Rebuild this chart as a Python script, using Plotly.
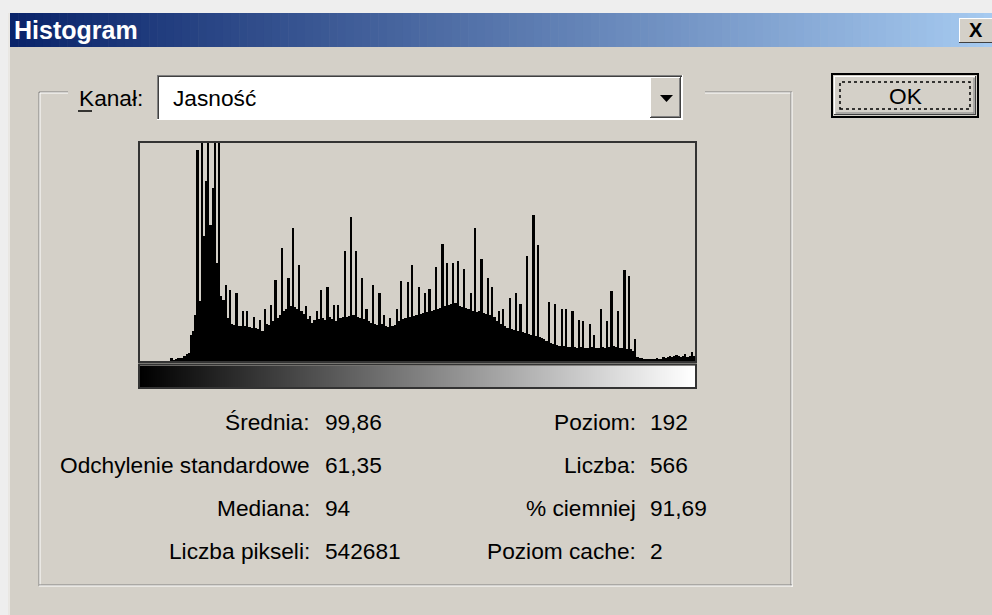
import plotly.graph_objects as go

# ---------------- data ----------------
levels = list(range(256))
counts = [
    0, 0, 0, 0, 0, 0, 0, 0, 0, 0, 0, 0, 0, 0, 3, 1, 2, 3, 3, 3,
    5, 7, 8, 26, 30, 46, 211, 60, 300, 125, 180, 300, 136, 173, 300, 98, 300, 65, 61, 76,
    43, 71, 37, 36, 68, 35, 35, 50, 35, 50, 34, 33, 44, 33, 32, 41, 30, 52, 37, 36,
    56, 40, 81, 43, 46, 113, 50, 52, 83, 55, 133, 54, 52, 96, 50, 47, 55, 42, 45, 38,
    41, 50, 42, 71, 43, 41, 74, 44, 42, 56, 40, 56, 43, 44, 110, 44, 45, 144, 46, 110,
    44, 43, 83, 42, 52, 40, 38, 76, 37, 36, 68, 37, 46, 35, 34, 43, 35, 36, 52, 40,
    80, 42, 43, 79, 44, 96, 45, 46, 74, 47, 48, 68, 49, 72, 50, 51, 94, 52, 53, 117,
    55, 98, 56, 57, 98, 58, 100, 55, 54, 92, 53, 52, 68, 50, 133, 49, 50, 102, 48, 47,
    83, 46, 74, 44, 40, 50, 37, 52, 35, 33, 63, 32, 31, 68, 30, 57, 29, 28, 105, 27,
    26, 146, 25, 116, 24, 23, 22, 20, 59, 18, 17, 57, 16, 15, 52, 15, 52, 14, 14, 50,
    14, 13, 41, 14, 40, 13, 13, 37, 14, 26, 13, 13, 52, 14, 13, 40, 14, 70, 15, 14,
    50, 13, 13, 91, 12, 85, 12, 10, 22, 4, 3, 3, 2, 2, 2, 2, 2, 2, 3, 2,
    2, 4, 3, 4, 5, 4, 5, 6, 5, 4, 5, 7, 4, 5, 9, 5,
]
y_max = 218

dialog_title = "Histogram"
channel_label = "Kanał:"
channel_value = "Jasność"
button_label = "OK"
left_labels = ["Średnia:", "Odchylenie standardowe", "Mediana:", "Liczba pikseli:"]
left_values = ["99,86", "61,35", "94", "542681"]
right_labels = ["Poziom:", "Liczba:", "% ciemniej", "Poziom cache:"]
right_values = ["192", "566", "91,69", "2"]

# ---------------- helpers ----------------
W, H = 992, 615
FACE = "#d4d0c8"
FONT = "Liberation Sans, Arial, sans-serif"


def px(x):
    return x / W


def py(y):
    return 1 - y / H


shapes = []


def rect(x0, y0, x1, y1, fill=None, line=None, lw=1, dash=None, layer="above"):
    d = dict(type="rect", xref="paper", yref="paper",
             x0=px(x0), x1=px(x1), y0=py(y1), y1=py(y0), layer=layer)
    if fill:
        d["fillcolor"] = fill
    if line:
        d["line"] = dict(color=line, width=lw, dash=dash) if dash else dict(color=line, width=lw)
    else:
        d["line"] = dict(width=0)
    shapes.append(d)


def hline(x0, x1, y, color, lw=1):
    shapes.append(dict(type="line", xref="paper", yref="paper",
                       x0=px(x0), x1=px(x1), y0=py(y), y1=py(y),
                       line=dict(color=color, width=lw)))


def vline(x, y0, y1, color, lw=1):
    shapes.append(dict(type="line", xref="paper", yref="paper",
                       x0=px(x), x1=px(x), y0=py(y0), y1=py(y1),
                       line=dict(color=color, width=lw)))


# outer desktop strip (dotted pattern approximated)
rect(0, 0, W, 13, fill="#eeeeee", layer="below")
rect(0, 0, 8, H, fill="#eeeeee", layer="below")
vline(9, 13, H, "#ffffff", 1)

# title bar gradient
n = 120
c0 = (10, 36, 106)
c1 = (166, 202, 240)
x_start, x_end = 10, W
for i in range(n):
    t = i / (n - 1)
    col = "rgb(%d,%d,%d)" % tuple(int(c0[k] + (c1[k] - c0[k]) * t) for k in range(3))
    xa = x_start + (x_end - x_start) * i / n
    xb = x_start + (x_end - x_start) * (i + 1) / n + 0.6
    rect(xa, 13, xb, 47, fill=col, layer="below")

# close button
rect(959, 18, W, 43, fill=FACE, layer="above")
hline(959, W, 18.5, "#ffffff")
vline(959.5, 18, 43, "#ffffff")
hline(959, W, 42.5, "#404040")

# group box (etched)
GX0, GY0, GX1, GY1 = 39, 92, 792, 586
hline(GX0, 68, GY0, "#808080")
hline(GX0 + 1, 68, GY0 + 1, "#ffffff")
hline(705, GX1, GY0, "#808080")
hline(705, GX1 - 1, GY0 + 1, "#ffffff")
vline(GX0, GY0, GY1, "#808080")
vline(GX0 + 1, GY0 + 1, GY1 - 1, "#ffffff")
vline(GX1 - 1, GY0, GY1, "#808080")
vline(GX1, GY0, GY1 + 1, "#ffffff")
hline(GX0, GX1, GY1 - 1, "#808080")
hline(GX0, GX1 + 1, GY1, "#ffffff")

# combobox
rect(157, 75, 683, 120, fill="#ffffff")
hline(157, 683, 75.5, "#808080")
vline(157.5, 75, 120, "#808080")
hline(158, 682, 76.5, "#404040")
vline(158.5, 76, 119, "#404040")
hline(157, 683, 119.5, "#ffffff")
vline(682.5, 75, 120, "#ffffff")
# dropdown button
rect(650, 77, 681, 118, fill=FACE)
hline(650, 681, 77.5, "#ffffff")
vline(650.5, 77, 118, "#ffffff")
hline(650, 681, 117.5, "#404040")
vline(680.5, 77, 118, "#404040")
hline(651, 680, 116.5, "#808080")
vline(679.5, 78, 117, "#808080")
shapes.append(dict(type="path", xref="paper", yref="paper",
                   path="M %f %f L %f %f L %f %f Z" % (px(660), py(95), px(673), py(95), px(666.5), py(102)),
                   fillcolor="#000000", line=dict(width=0)))
# underline of K
hline(78, 92, 111, "#000000", 1.5)

# OK button
rect(832, 74, 978, 117, fill=FACE, line="#000000", lw=2)
hline(834, 976, 76.5, "#ffffff")
vline(834.5, 76, 115, "#ffffff")
hline(834, 976, 114.5, "#404040")
vline(975.5, 76, 115, "#404040")
hline(836, 974, 113, "#808080")
vline(974, 78, 114, "#808080")
rect(840, 82, 970, 109, line="#000000", lw=1.5, dash="dot")

# histogram box and gradient frame
rect(139, 142, 696, 362, line="#333333", lw=2)
hline(139, 696, 363.5, "#bdbab3")
rect(139, 364.5, 696, 388, line="#333333", lw=2)

# ---------------- traces ----------------
fig = go.Figure()
fig.add_trace(go.Bar(
    x=levels, y=counts, width=1.0,
    marker=dict(color="#000000", line=dict(width=0)),
    xaxis="x", yaxis="y", hoverinfo="skip", showlegend=False,
))
fig.add_trace(go.Heatmap(
    z=[levels], x=levels, y=[0],
    colorscale=[[0, "#000000"], [1, "#ffffff"]], zmin=0, zmax=255,
    showscale=False, xaxis="x2", yaxis="y2", hoverinfo="skip",
))

# ---------------- annotations ----------------
ann = []


def text(x, y, s, anchor="left", size=22.7, color="#000000", bold=False):
    ann.append(dict(xref="paper", yref="paper", x=px(x), y=py(y), text=("<b>%s</b>" % s) if bold else s,
                    showarrow=False, xanchor=anchor, yanchor="middle",
                    font=dict(family=FONT, size=size, color=color)))


text(12, 30, dialog_title, size=25, color="#ffffff", bold=True)
text(975.5, 30, "X", anchor="center", size=20, bold=True)
text(77, 98, channel_label)
text(171, 98, channel_value)
text(905, 96, button_label, anchor="center")

rows_y = [422, 465, 508, 551]
for yy, lab, val in zip(rows_y, left_labels, left_values):
    text(312, yy, lab, anchor="right")
    text(323, yy, val, anchor="left")
for yy, lab, val in zip(rows_y, right_labels, right_values):
    text(638, yy, lab, anchor="right")
    text(648, yy, val, anchor="left")

fig.update_layout(
    width=W, height=H, autosize=False,
    margin=dict(l=0, r=0, t=0, b=0, pad=0),
    paper_bgcolor=FACE, plot_bgcolor="rgba(0,0,0,0)",
    bargap=0, showlegend=False,
    xaxis=dict(domain=[px(140), px(695)], range=[-0.5, 255.5], visible=False, fixedrange=True),
    yaxis=dict(domain=[py(361), py(143)], range=[0, y_max], visible=False, fixedrange=True),
    xaxis2=dict(domain=[px(140), px(695)], range=[-0.5, 255.5], visible=False, anchor="y2"),
    yaxis2=dict(domain=[py(387), py(365.5)], range=[-0.5, 0.5], visible=False, anchor="x2"),
    shapes=shapes, annotations=ann,
)

fig.write_html(
    "out.html",
    config={"displayModeBar": False},
    post_script="document.body.style.margin='0px';document.body.style.overflow='hidden';",
)
